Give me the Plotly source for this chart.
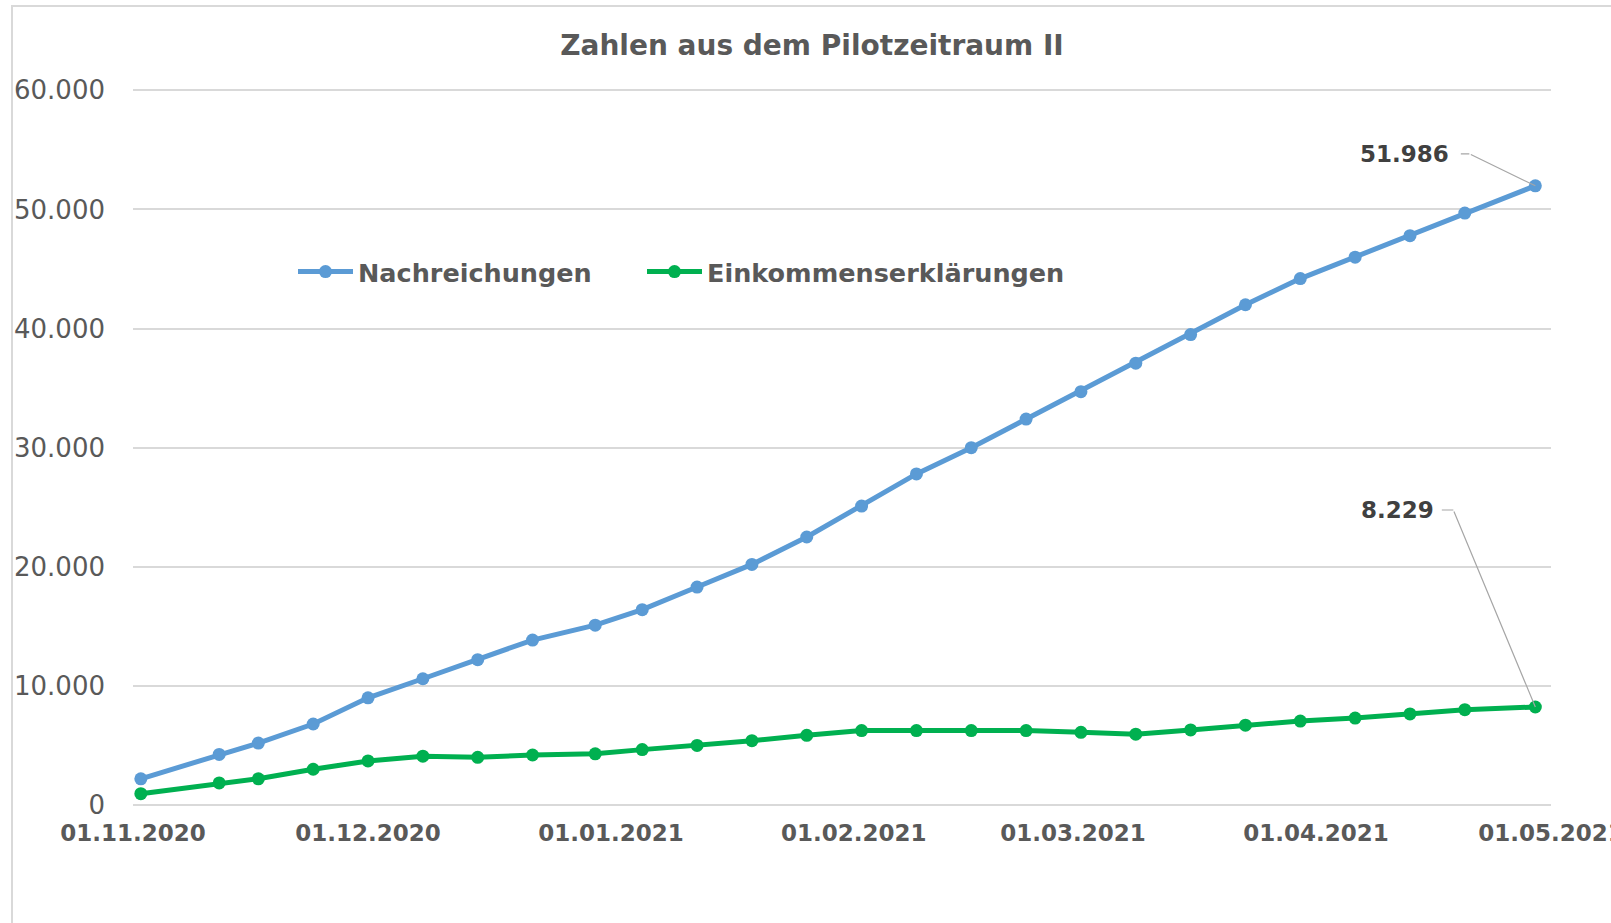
import plotly.graph_objects as go

# ---- data ----
dates = ["2020-11-02", "2020-11-12", "2020-11-17", "2020-11-24", "2020-12-01",
         "2020-12-08", "2020-12-15", "2020-12-22", "2020-12-30", "2021-01-05",
         "2021-01-12", "2021-01-19", "2021-01-26", "2021-02-02", "2021-02-09",
         "2021-02-16", "2021-02-23", "2021-03-02", "2021-03-09", "2021-03-16",
         "2021-03-23", "2021-03-30", "2021-04-06", "2021-04-13", "2021-04-20",
         "2021-04-29"]
nachreichungen = [2200, 4250, 5200, 6800, 9000, 10600, 12200, 13850, 15100, 16400,
                  18300, 20200, 22500, 25100, 27800, 30000, 32400, 34700, 37100, 39500,
                  42000, 44200, 46000, 47800, 49700, 51986]
einkommen = [950, 1850, 2200, 3000, 3700, 4100, 4000, 4200, 4300, 4650,
             5000, 5400, 5850, 6250, 6250, 6250, 6250, 6100, 5950, 6300,
             6700, 7050, 7300, 7650, 8000, 8229]
series_names = ["Nachreichungen", "Einkommenserklärungen"]
tick_dates = ["2020-11-01", "2020-12-01", "2021-01-01", "2021-02-01",
              "2021-03-01", "2021-04-01", "2021-05-01"]
tick_labels = ["01.11.2020", "01.12.2020", "01.01.2021", "01.02.2021",
               "01.03.2021", "01.04.2021", "01.05.2021"]
title_text = "Zahlen aus dem Pilotzeitraum II"

BLUE = "#5B9BD5"
GREEN = "#00B050"
GREY = "#595959"
FONT = "DejaVu Sans"

fig = go.Figure()
fig.add_trace(go.Scatter(x=dates, y=nachreichungen, name=series_names[0],
                         mode="lines+markers", legend="legend",
                         line=dict(color=BLUE, width=5),
                         marker=dict(color=BLUE, size=13)))
fig.add_trace(go.Scatter(x=dates, y=einkommen, name=series_names[1],
                         mode="lines+markers", legend="legend2",
                         line=dict(color=GREEN, width=5),
                         marker=dict(color=GREEN, size=13)))

W, H = 1611, 923
ml, mr, mt, mb = 133, 60, 88, 118
pw, ph = W - ml - mr, H - mt - mb

def px_to_paper_x(px):
    return (px - ml) / pw

def px_to_paper_y(py):
    return (H - mb - py) / ph

legend_common = dict(orientation="h", xanchor="left", yanchor="middle",
                     y=px_to_paper_y(272),
                     font=dict(family=FONT, size=25.5, color=GREY, weight="bold"),
                     bgcolor="rgba(0,0,0,0)", itemwidth=55)

fig.update_layout(
    width=W, height=H,
    margin=dict(l=ml, r=mr, t=mt, b=mb, autoexpand=False),
    paper_bgcolor="white", plot_bgcolor="white",
    separators=",.",
    title=dict(text="<b>" + title_text + "</b>", x=812 / W, xref="container",
               xanchor="center", y=1 - 45 / H, yanchor="middle",
               font=dict(family=FONT, size=28, color=GREY)),
    font=dict(family=FONT, color=GREY),
    showlegend=True,
    legend=dict(legend_common, x=px_to_paper_x(293)),
    legend2=dict(legend_common, x=px_to_paper_x(642)),
    xaxis=dict(type="date", range=["2020-11-01", "2021-05-01"],
               tickmode="array", tickvals=tick_dates, ticktext=tick_labels,
               showgrid=False, showline=False, zeroline=False, automargin=False,
               ticks="", ticklabelstandoff=12, ticklabeloverflow="allow",
               tickfont=dict(family=FONT, size=23, color=GREY, weight="bold")),
    yaxis=dict(range=[0, 60200], tickmode="linear", tick0=0, dtick=10000,
               tickformat=",d",
               showgrid=True, gridcolor="#D9D9D9", gridwidth=2,
               zeroline=True, zerolinecolor="#D9D9D9", zerolinewidth=2,
               showline=False, automargin=False, ticks="", ticklabelstandoff=27,
               tickfont=dict(family=FONT, size=26, color=GREY)),
)

# outer chart frame (only top and left edges visible in the reference)
fig.add_shape(type="rect", xref="paper", yref="paper",
              x0=px_to_paper_x(12), x1=px_to_paper_x(W + 40),
              y0=px_to_paper_y(H + 40), y1=px_to_paper_y(6),
              line=dict(color="#D9D9D9", width=2), fillcolor="rgba(0,0,0,0)", layer="below")

# data labels with leader lines (diagonal + short horizontal tick) for the last values
last_x = dates[-1]
for val, tx, ty, lx, ly, hlen in [(nachreichungen[-1], -131, -32, -66, -32, 10),
                                  (einkommen[-1], -138, -197, -82, -197, 13)]:
    label = f"{val:,}".replace(",", ".")
    fig.add_annotation(x=last_x, y=val, text="<b>" + label + "</b>",
                       showarrow=True, arrowcolor="rgba(0,0,0,0)", ax=tx, ay=ty,
                       font=dict(family=FONT, size=23, color="#404040"))
    fig.add_annotation(x=last_x, y=val, text="", showarrow=True, arrowhead=0,
                       arrowwidth=1.2, arrowcolor="#A6A6A6", ax=lx, ay=ly,
                       standoff=0, startstandoff=0)
    fig.add_annotation(x=last_x, y=val, text="", showarrow=True, arrowhead=0,
                       arrowwidth=1.2, arrowcolor="#A6A6A6", ax=-hlen, ay=0,
                       xshift=lx, yshift=-ly, standoff=0, startstandoff=0)

fig.write_html("out.html", config={"displayModeBar": False},
               post_script="document.body.style.margin='0';")
